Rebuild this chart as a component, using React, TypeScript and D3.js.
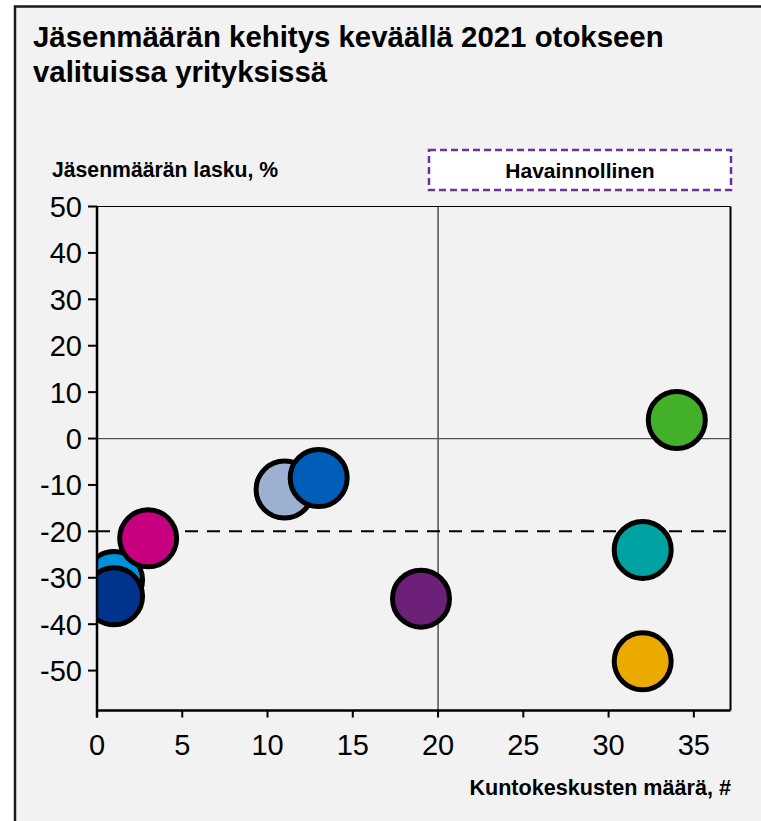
import React from 'react';
import * as d3 from 'd3';

// companies: fitness center count (x) vs member change % (y)
const names = ['A', 'B', 'C', 'D', 'E', 'F', 'G', 'H', 'I'];
const centers = [11, 13, 1, 1, 3, 19, 34, 32, 32];
const change = [-11, -8.5, -30.5, -34, -21.5, -34.5, 4, -24, -48];
const colors = ['#9DB0D1', '#005EB8', '#0091DA', '#00338D', '#C6007E', '#6D2077', '#43B02A', '#00A3A1', '#EAAA00'];

const xTicks = [0, 5, 10, 15, 20, 25, 30, 35];
const yTicks = [50, 40, 30, 20, 10, 0, -10, -20, -30, -40, -50];

const font = 'Arial, "Liberation Sans", sans-serif';

export default function App() {
  const W = 761, H = 821;
  const left = 97, right = 730.5, top = 206.5, bottom = 710.5;

  const x = d3.scaleLinear().domain([0, 37.15]).range([left, right]);
  const y = d3.scaleLinear().domain([-58.6, 50]).range([bottom, top]);

  const dots = names.map((n, i) => (
    <circle key={n} cx={x(centers[i])} cy={y(change[i])} r={28.5}
      fill={colors[i]} stroke="#000" strokeWidth={5} />
  ));

  return (
    <svg width={W} height={H} style={{ position: 'absolute', left: 0, top: 0 }}>
      <rect x={0} y={0} width={W} height={H} fill="#fff" />
      <rect x={15} y={6.5} width={W + 10} height={H + 10} fill="#F2F2F2" stroke="#1a1a1a" strokeWidth={2.5} />

      <text x={33} y={47} fontFamily={font} fontWeight="bold" fontSize={29.4} fill="#000">Jäsenmäärän kehitys keväällä 2021 otokseen</text>
      <text x={33} y={82} fontFamily={font} fontWeight="bold" fontSize={29.4} fill="#000">valituissa yrityksissä</text>

      <text x={52} y={177} fontFamily={font} fontWeight="bold" fontSize={21.2} fill="#000">Jäsenmäärän lasku, %</text>

      <rect x={429} y={150} width={302} height={40} fill="#fff" stroke="#7030A0" strokeWidth={2.5} strokeDasharray="7,4" />
      <text x={580} y={178} textAnchor="middle" fontFamily={font} fontWeight="bold" fontSize={21} fill="#000">Havainnollinen</text>

      {/* plot frame */}
      <line x1={left} x2={right} y1={top} y2={top} stroke="#000" strokeWidth={1.2} />
      <line x1={right} x2={right} y1={top} y2={bottom} stroke="#000" strokeWidth={2} />
      <line x1={x(20)} x2={x(20)} y1={top} y2={bottom} stroke="#000" strokeWidth={1} />
      <line x1={left} x2={right} y1={y(0)} y2={y(0)} stroke="#555" strokeWidth={1.2} />
      <line x1={left} x2={right} y1={y(-20)} y2={y(-20)} stroke="#000" strokeWidth={2} strokeDasharray="13,9" />

      <defs>
        <clipPath id="plot">
          <rect x={left} y={top - 40} width={right - left + 40} height={bottom - top + 40} />
        </clipPath>
      </defs>
      <g clipPath="url(#plot)">{dots}</g>

      {/* y axis */}
      <line x1={left} x2={left} y1={top} y2={bottom + 7} stroke="#000" strokeWidth={2.5} />
      {yTicks.map(t => (
        <g key={t}>
          <line x1={left - 9} x2={left} y1={y(t)} y2={y(t)} stroke="#000" strokeWidth={2} />
          <text x={82} y={y(t)} dy="0.36em" textAnchor="end" fontFamily={font} fontSize={29} fill="#000">{t}</text>
        </g>
      ))}

      {/* x axis */}
      <line x1={left} x2={right} y1={bottom} y2={bottom} stroke="#000" strokeWidth={2.5} />
      {xTicks.map(t => (
        <g key={t}>
          <line x1={x(t)} x2={x(t)} y1={bottom} y2={bottom + 7} stroke="#000" strokeWidth={2} />
          <text x={x(t)} y={755} textAnchor="middle" fontFamily={font} fontSize={29} fill="#000">{t}</text>
        </g>
      ))}
      <text x={731} y={795} textAnchor="end" fontFamily={font} fontWeight="bold" fontSize={21.6} fill="#000">Kuntokeskusten määrä, #</text>
    </svg>
  );
}
